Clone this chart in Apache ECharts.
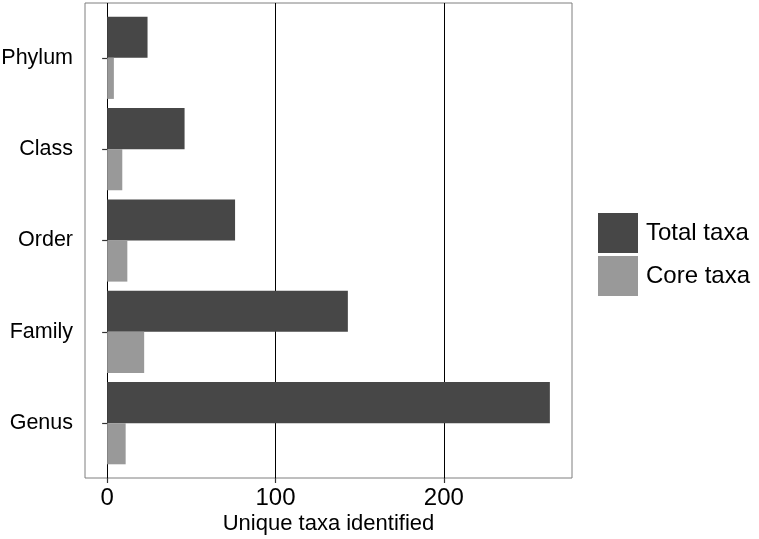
<!DOCTYPE html>
<html>
<head>
<meta charset="utf-8">
<script src="https://cdn.jsdelivr.net/npm/echarts@6/dist/echarts.min.js"></script>
<style>html,body{margin:0;padding:0;background:#fff}#c{width:759px;height:539px}</style>
</head>
<body>
<div id="c"></div>
<script>
const categories = ['Phylum', 'Class', 'Order', 'Family', 'Genus'];
const totalTaxa = [24, 46, 76, 143, 263];
const coreTaxa = [4, 9, 12, 22, 11];
const xTicks = [0, 100, 200];
const seriesNames = ['Total taxa', 'Core taxa'];
const axisTitle = 'Unique taxa identified';

const FONT = 'Liberation Sans, Arial, Helvetica, sans-serif';
// panel geometry (ggplot-like expansion)
const P = {left: 85, right: 572, top: 3, bottom: 478};
const xMin = -13.15, xMax = 276.15;
const pxPerUnit = (P.right - P.left) / (xMax - xMin);
const bandPx = (P.bottom - P.top) / (categories.length + 0.2);

const chart = echarts.init(document.getElementById('c'), null, {renderer: 'canvas'});
chart.setOption({
  animation: false,
  backgroundColor: '#fff',
  textStyle: {fontFamily: FONT},
  legend: {
    orient: 'vertical', left: 593, top: 208,
    itemWidth: 40, itemHeight: 40, itemGap: 3,
    icon: 'rect',
    data: seriesNames,
    textStyle: {fontSize: 24, color: '#000', fontFamily: FONT, padding: [0, 0, 0, 3]}
  },
  grid: [
    // frame
    {left: P.left, top: P.top, width: P.right - P.left, height: P.bottom - P.top,
     outerBoundsMode: 'none', containLabel: false,
     show: true, borderColor: '#7f7f7f', borderWidth: 1, backgroundColor: 'transparent', z: 0},
    // gridlines / ticks (0..200)
    {left: P.left + (0 - xMin) * pxPerUnit, top: P.top,
     outerBoundsMode: 'none', containLabel: false,
     width: (xTicks[xTicks.length - 1] - xTicks[0]) * pxPerUnit, height: P.bottom - P.top},
    // bars
    {left: P.left, top: P.top + 0.1 * bandPx, width: P.right - P.left,
     outerBoundsMode: 'none', containLabel: false,
     height: (P.bottom - P.top) - 0.2 * bandPx}
  ],
  xAxis: [
    {gridIndex: 0, type: 'value', min: 0, max: 1,
     axisLine: {show: false}, axisTick: {show: false}, axisLabel: {show: false}, splitLine: {show: false},
     name: axisTitle, nameLocation: 'middle', nameGap: 35,
     nameTextStyle: {fontSize: 22, color: '#000', fontFamily: FONT}},
    {gridIndex: 1, type: 'value', min: xTicks[0], max: xTicks[xTicks.length - 1], interval: 100,
     axisLine: {show: false},
     axisTick: {show: true, length: 5, lineStyle: {color: '#333', width: 1.2}},
     axisLabel: {fontSize: 24, color: '#000', margin: 8, fontFamily: FONT},
     splitLine: {show: true, lineStyle: {color: '#000', width: 1}}},
    {gridIndex: 2, type: 'value', min: xMin, max: xMax, show: false}
  ],
  yAxis: [
    {gridIndex: 0, type: 'value', show: false},
    {gridIndex: 1, type: 'value', show: false},
    {gridIndex: 2, type: 'category', data: categories, inverse: true,
     axisLine: {show: false},
     axisTick: {show: true, alignWithLabel: true, length: 5, lineStyle: {color: '#333', width: 1.2}},
     axisLabel: {fontSize: 21.5, color: '#000', margin: 12, fontFamily: FONT},
     splitLine: {show: false}}
  ],
  series: [
    {name: seriesNames[0], type: 'bar', xAxisIndex: 2, yAxisIndex: 2, data: totalTaxa,
     itemStyle: {color: '#474747'}, barCategoryGap: '10%', barGap: '0%'},
    {name: seriesNames[1], type: 'bar', xAxisIndex: 2, yAxisIndex: 2, data: coreTaxa,
     itemStyle: {color: '#999999'}, barCategoryGap: '10%', barGap: '0%'}
  ]
});
</script>
</body>
</html>
